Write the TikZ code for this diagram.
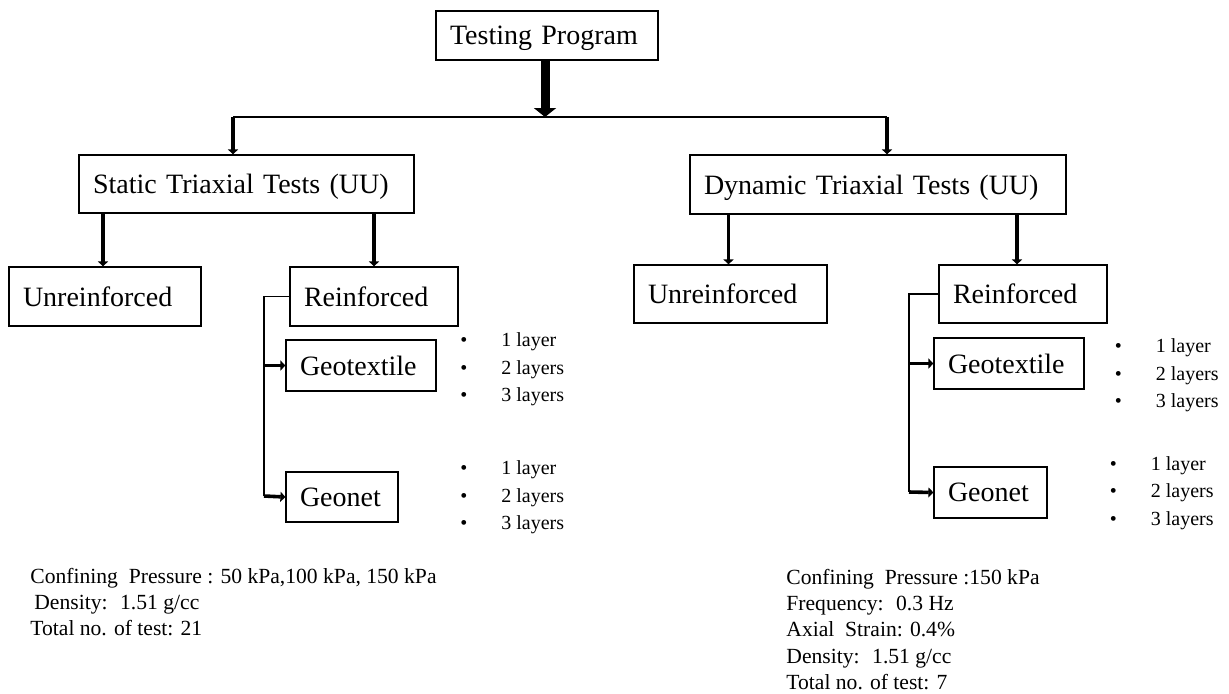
\documentclass[tikz,border=0pt]{standalone}
\usepackage{fontspec}
\setmainfont{Liberation Serif}
\newfontfamily\boxfamily[WordSpace=1.4]{Liberation Serif}
\usetikzlibrary{arrows.meta,positioning,calc}

\begin{document}
\begin{tikzpicture}[
    x=0.5pt, y=-0.5pt,
    box/.style={draw, line width=0.6pt, inner xsep=7pt, inner ysep=0pt,
      text depth=0pt, align=left, text width=#1,
      font=\boxfamily\fontsize{14}{16}\selectfont},
    thinline/.style={line width=0.6pt},
    bigarrow/.style={line width=4.5pt, -{Triangle[length=4.5pt,width=11pt]}},
    smallarrow/.style={line width=1.8pt, -{Triangle[length=2.5pt,width=5pt]}},
    layers/.style={inner sep=0pt, anchor=west, align=left,
      font=\fontsize{10}{13.75}\selectfont},
    note/.style={inner sep=0pt, anchor=west, align=left,
      font=\fontsize{10.8}{13.2}\selectfont}
  ]
  \useasboundingbox (0,0) rectangle (1229,693);

  % top level
  \node[box=97pt, minimum height=24.5pt] (prog) at (547,35.5) {Testing Program};
  \node[box=153.5pt, minimum height=29pt] (static) at (246.5,184) {Static Triaxial Tests (UU)};
  \node[box=174pt, minimum height=29.5pt] (dynamic) at (878,184.5) {Dynamic Triaxial Tests (UU)};

  % static branch
  \node[box=82pt, minimum height=29.5pt] (unreinfL) at (105,296.5) {Unreinforced};
  \node[box=70pt, minimum height=29.5pt] (reinfL) at (374,296.5) {Reinforced};
  \node[box=61pt, minimum height=25.5pt] (geotexL) at (361,365.5) {Geotextile};
  \node[box=42pt, minimum height=25pt] (geonetL) at (342,497) {Geonet};

  % dynamic branch
  \node[box=82.5pt, minimum height=29pt] (unreinfR) at (730.5,294) {Unreinforced};
  \node[box=70pt, minimum height=29pt] (reinfR) at (1023,294) {Reinforced};
  \node[box=61pt, minimum height=25.5pt] (geotexR) at (1009,363.5) {Geotextile};
  \node[box=42.5pt, minimum height=25.5pt] (geonetR) at (990.5,492.5) {Geonet};

  % layer lists
  \node[layers] (layGeotexL) at (460,369.5) {\textbullet\hspace{17pt}1 layer\\\textbullet\hspace{17pt}2 layers\\\textbullet\hspace{17pt}3 layers};
  \node[layers] (layGeonetL) at (460,497.5) {\textbullet\hspace{17pt}1 layer\\\textbullet\hspace{17pt}2 layers\\\textbullet\hspace{17pt}3 layers};
  \node[layers] (layGeotexR) at (1114.5,375.5) {\textbullet\hspace{17pt}1 layer\\\textbullet\hspace{17pt}2 layers\\\textbullet\hspace{17pt}3 layers};
  \node[layers] (layGeonetR) at (1109.5,493) {\textbullet\hspace{17pt}1 layer\\\textbullet\hspace{17pt}2 layers\\\textbullet\hspace{17pt}3 layers};

  % test conditions
  \node[note] (condL) at (30,602) {Confining~ Pressure : 50 kPa,100 kPa, 150 kPa\\
    \hspace{2pt}Density:~ 1.51 g/cc\\
    Total no. of test: 21};
  \node[note] (condR) at (786,629.5) {Confining~ Pressure :150 kPa\\
    Frequency:~ 0.3 Hz\\
    Axial~ Strain: 0.4\%\\
    Density:~ 1.51 g/cc\\
    Total no. of test: 7};

  % connectors
  \coordinate (busL) at (233,117);
  \coordinate (busR) at (887,117);
  \coordinate (trunkL) at (264,496);
  \coordinate (trunkR) at (909,492);

  \draw[bigarrow] ([xshift=-1pt]prog.south) -- ([xshift=-1pt]prog.south |- busL);
  \draw[thinline] (busL) -- (busR);
  \draw[smallarrow] (busL) -- (busL |- static.north);
  \draw[smallarrow] (busR) -- (busR |- dynamic.north);

  \draw[smallarrow] ([xshift=-1pt]unreinfL.north |- static.south) -- ([xshift=-1pt]unreinfL.north);
  \draw[smallarrow] (reinfL.north |- static.south) -- (reinfL.north);
  \draw[smallarrow] ([xshift=-1pt]unreinfR.north |- dynamic.south) -- ([xshift=-1pt]unreinfR.north);
  \draw[smallarrow] ([xshift=-3pt]reinfR.north |- dynamic.south) -- ([xshift=-3pt]reinfR.north);

  \draw[thinline] (reinfL.west) -| (trunkL);
  \draw[smallarrow] (trunkL |- geotexL.west) -- (geotexL.west);
  \draw[smallarrow] (trunkL) -- (geonetL.west);
  \draw[thinline] (reinfR.west) -| (trunkR);
  \draw[smallarrow] (trunkR |- geotexR.west) -- (geotexR.west);
  \draw[smallarrow] (trunkR) -- (geonetR.west);
\end{tikzpicture}
\end{document}
